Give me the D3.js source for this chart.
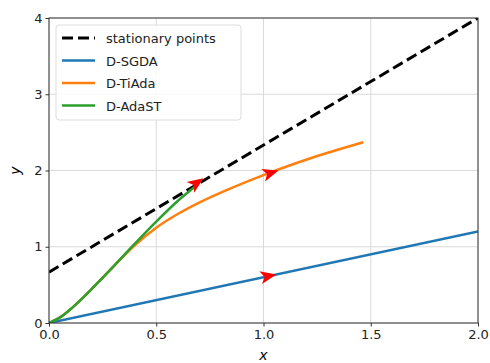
<!DOCTYPE html>
<html>
<head>
<meta charset="utf-8">
<script src="https://cdn.jsdelivr.net/npm/d3@7"></script>
<style>
  body { margin: 0; background: #fff; }
  text { font-family: "DejaVu Sans", sans-serif; }
</style>
</head>
<body>
<div id="chart"></div>
<script>
// data
const stationary = [[0, 0.667], [2, 4]];
const sgda = [[0, 0], [2, 1.2]];
const tiada = [[0, 0], [0.05, 0.07], [0.1, 0.18], [0.15, 0.31], [0.2, 0.45], [0.3, 0.74],
  [0.4, 1.02], [0.5, 1.25], [0.6, 1.43], [0.7, 1.58], [0.85, 1.77], [1.0, 1.94],
  [1.23, 2.17], [1.465, 2.37]];
const adast = [[0, 0], [0.05, 0.07], [0.1, 0.18], [0.15, 0.31], [0.2, 0.45], [0.3, 0.74],
  [0.4, 1.04], [0.5, 1.33], [0.6, 1.6], [0.69, 1.81]];
// arrows: [tailX, tailY, tipX, tipY]
const arrows = [[0.98, 0.59, 1.06, 0.636], [0.99, 1.93, 1.07, 2.0], [0.645, 1.75, 0.72, 1.9]];
const xTicks = [0, 0.5, 1, 1.5, 2];
const yTicks = [0, 1, 2, 3, 4];
const legendNames = ["stationary points", "D-SGDA", "D-TiAda", "D-AdaST"];
const colors = ["#000", "#1f77b4", "#ff7f0e", "#2ca02c"];

const width = 490, height = 363,
  margin = { top: 18, right: 12, bottom: 40, left: 49 };

const x = d3.scaleLinear().domain([0, 2]).range([margin.left, width - margin.right]);
const y = d3.scaleLinear().domain([0, 4]).range([height - margin.bottom, margin.top]);

const svg = d3.select("#chart").append("svg")
  .attr("width", width).attr("height", height);

// grid
svg.append("g").selectAll("line").data(xTicks).join("line")
  .attr("x1", d => x(d)).attr("x2", d => x(d))
  .attr("y1", y(0)).attr("y2", y(4))
  .attr("stroke", "#dadada").attr("stroke-width", 1);
svg.append("g").selectAll("line").data(yTicks).join("line")
  .attr("y1", d => y(d)).attr("y2", d => y(d))
  .attr("x1", x(0)).attr("x2", x(2))
  .attr("stroke", "#dadada").attr("stroke-width", 1);

const line = d3.line().x(d => x(d[0])).y(d => y(d[1]));
const curve = d3.line().x(d => x(d[0])).y(d => y(d[1])).curve(d3.curveCatmullRom.alpha(0.5));

const plot = svg.append("g");
plot.append("clipPath").attr("id", "clip").append("rect")
  .attr("x", x(0)).attr("y", y(4)).attr("width", x(2) - x(0)).attr("height", y(0) - y(4));
const g = plot.append("g").attr("clip-path", "url(#clip)");

g.append("path").datum(stationary).attr("d", line)
  .attr("fill", "none").attr("stroke", "#000").attr("stroke-width", 3)
  .attr("stroke-dasharray", "11,5");
g.append("path").datum(sgda).attr("d", line)
  .attr("fill", "none").attr("stroke", colors[1]).attr("stroke-width", 2.5);
g.append("path").datum(tiada).attr("d", curve)
  .attr("fill", "none").attr("stroke", colors[2]).attr("stroke-width", 2.5);
g.append("path").datum(adast).attr("d", curve)
  .attr("fill", "none").attr("stroke", colors[3]).attr("stroke-width", 2.5);

// red arrow heads
svg.append("g").selectAll("path").data(arrows).join("path")
  .attr("d", d => {
    const x0 = x(d[0]), y0 = y(d[1]), x1 = x(d[2]), y1 = y(d[3]);
    const L = Math.hypot(x1 - x0, y1 - y0), ux = (x1 - x0) / L, uy = (y1 - y0) / L;
    const len = 16, hw = 6.5;
    const bx = x1 - ux * len, by = y1 - uy * len;
    const nx = x1 - ux * len * 0.75, ny = y1 - uy * len * 0.75;
    return `M${x1},${y1}L${bx - uy * hw},${by + ux * hw}L${nx},${ny}L${bx + uy * hw},${by - ux * hw}Z`;
  })
  .attr("fill", "red");

// axes
const xAxis = svg.append("g").attr("transform", `translate(0,${y(0)})`)
  .call(d3.axisBottom(x).tickValues(xTicks).tickFormat(d3.format(".1f")).tickSize(3.5).tickPadding(3));
const yAxis = svg.append("g").attr("transform", `translate(${x(0)},0)`)
  .call(d3.axisLeft(y).tickValues(yTicks).tickFormat(d3.format("d")).tickSize(3.5).tickPadding(3));
[xAxis, yAxis].forEach(a => {
  a.select(".domain").remove();
  a.selectAll("text").attr("font-size", 13).attr("fill", "#222")
    .attr("font-family", "DejaVu Sans, sans-serif");
  a.selectAll("line").attr("stroke", "#333");
});
svg.append("rect").attr("x", x(0)).attr("y", y(4))
  .attr("width", x(2) - x(0)).attr("height", y(0) - y(4))
  .attr("fill", "none").attr("stroke", "#333").attr("stroke-width", 1);

svg.append("text").attr("x", x(1)).attr("y", 360).attr("text-anchor", "middle")
  .attr("font-size", 14).attr("font-style", "italic").text("x");
svg.append("text").attr("transform", `translate(20,${y(2)}) rotate(-90)`)
  .attr("text-anchor", "middle").attr("font-size", 14).attr("font-style", "italic").text("y");

// legend
const lg = svg.append("g").attr("transform", "translate(56,25)");
lg.append("rect").attr("width", 185).attr("height", 95).attr("rx", 3)
  .attr("fill", "#fff").attr("fill-opacity", 0.85).attr("stroke", "#ddd");
legendNames.forEach((name, i) => {
  const ly = 13 + i * 22.5;
  lg.append("line").attr("x1", 6).attr("x2", 39).attr("y1", ly).attr("y2", ly)
    .attr("stroke", colors[i]).attr("stroke-width", i === 0 ? 3 : 2.5)
    .attr("stroke-dasharray", i === 0 ? "11,5" : null);
  lg.append("text").attr("x", 50).attr("y", ly + 5).attr("font-size", 13)
    .attr("fill", "#222").text(name);
});
</script>
</body>
</html>
